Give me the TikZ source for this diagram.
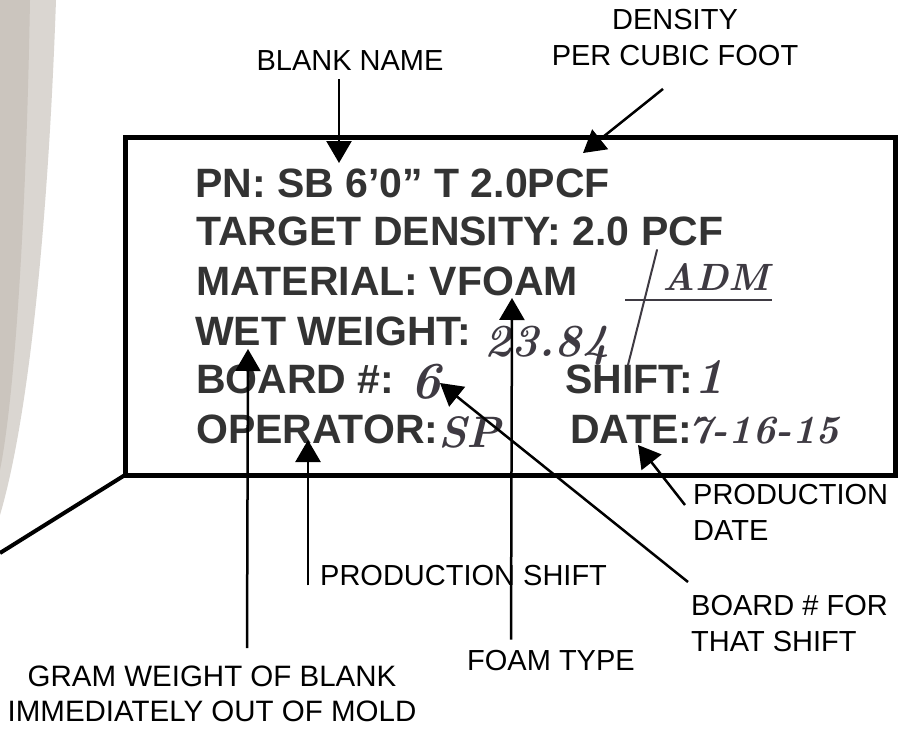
\documentclass[tikz,border=0pt]{standalone}
\usepackage{fontspec}
\newfontfamily\lab{Liberation Sans}
\usetikzlibrary{arrows.meta}
\definecolor{ink}{HTML}{333333}
\definecolor{pen}{HTML}{3E3A42}
\definecolor{boardA}{HTML}{CBC5BE}
\definecolor{boardB}{HTML}{DAD6D1}
\begin{document}
\begin{tikzpicture}[x=1pt,y=-1pt,
  lbl/.style={font=\lab\fontsize{29}{36}\selectfont, inner sep=0pt},
  tag/.style={font=\lab\bfseries\fontsize{41}{48}\selectfont, text=ink, inner sep=0pt, anchor=base west},
  hw/.style={font=\bfseries\itshape\fontsize{46}{48}\selectfont, text=pen, inner sep=0pt, anchor=base west},
  ptr/.style={line width=2.5pt, -{Triangle[length=22pt,width=25pt]}},
  penline/.style={draw=pen, line width=2pt, line cap=round},
]
\useasboundingbox (0,0) rectangle (904,728);
\fill[white] (0,0) rectangle (904,728);
% board edge
\fill[boardB] (0,0) -- (56,0) .. controls (48,230) and (28,420) .. (0,515) -- cycle;
\fill[boardA] (0,0) -- (30,0) .. controls (26,230) and (14,400) .. (0,470) -- cycle;

% label box
\node[draw, line width=5pt, outer sep=0pt, inner sep=0pt, minimum width=770pt, minimum height=338pt] (box) at (510,306) {};
\coordinate (edge) at (0,553);
\draw[line width=4pt] (box.south west) -- (edge);

% printed label text
\node[tag] (l1) at (195,197) {PN: SB 6’0” T 2.0PCF};
\node[tag] (l2) at (196,245) {TARGET DENSITY: 2.0 PCF};
\node[tag] (l3) at (196,295) {MATERIAL: VFOAM};
\node[tag] (l4) at (195,345) {WET WEIGHT:};
\node[tag] (l5) at (196,393) {BOARD \#:};
\node[tag] (l6) at (565,393) {SHIFT:};
\node[tag] (l7) at (196,443) {OPERATOR:};
\node[tag] (l8) at (570,443) {DATE:};

% handwriting
\node[hw] (h1) at (484,356) {23.84};
\draw[penline] (628,365) -- (657,250);
\node[hw, font=\bfseries\itshape\fontsize{38}{40}\selectfont] (h2) at (662,290) {ADM};
\draw[pen, line width=1.2pt] (625,300) -- (772,300);
\node[hw, font=\bfseries\itshape\fontsize{52}{54}\selectfont] (h3) at (410,398) {6};
\node[hw, font=\bfseries\itshape\fontsize{50}{52}\selectfont] (h4) at (694,393) {1};
\node[hw, font=\bfseries\itshape\fontsize{44}{46}\selectfont] (h5) at (438,447) {SP};
\node[hw, font=\bfseries\itshape\fontsize{40}{44}\selectfont] (h6) at (688,443) {7-16-15};

% annotation labels
\node[lbl, anchor=base] (bn) at (350,70) {BLANK NAME};
\node[lbl, anchor=north, align=center] (dn) at (675,9) {DENSITY\\PER CUBIC FOOT};
\node[lbl, anchor=north west, align=left] (pd) at (693,484) {PRODUCTION\\DATE};
\node[lbl, anchor=base west] (ps) at (320,585) {PRODUCTION SHIFT};
\node[lbl, anchor=north west, align=left] (bd) at (691,595) {BOARD \# FOR\\THAT SHIFT};
\node[lbl, anchor=base west] (ft) at (467,670) {FOAM TYPE};
\node[lbl, anchor=north, align=center, font=\lab\fontsize{29.5}{35}\selectfont] (gw) at (212,666) {GRAM WEIGHT OF BLANK\\IMMEDIATELY OUT OF MOLD};

% arrow tips
\coordinate (bnT) at (339,163);
\coordinate (dnT) at (583,153);
\coordinate (pdT) at (638,445);
\coordinate (bdT) at (440,383);
\coordinate (psT) at (308,440);
\coordinate (ftT) at (512,298);
\coordinate (gwT) at (248,349);

% arrow starts
\path (bn.south -| bnT) ++(0,9) coordinate (bnS);
\path (dn.south) ++(-12,23) coordinate (dnS);
\path (pd.north west) ++(-8,21) coordinate (pdS);
\path (bd.north west) ++(-3,-13) coordinate (bdS);
\path (ps.south west) ++(-12,0) coordinate (psS);
\path (ft.north west) ++(44,-10) coordinate (ftS);
\path (gw.north) ++(35,-18) coordinate (gwS);

\draw[ptr] (bnS) -- (bnT);
\draw[ptr] (dnS) -- (dnT);
\draw[ptr] (pdS) -- (pdT);
\draw[ptr] (bdS) -- (bdT);
\draw[ptr] (psS) -- (psT);
\draw[ptr] (ftS) -- (ftT);
\draw[ptr] (gwS) -- (gwT);
\end{tikzpicture}
\end{document}
